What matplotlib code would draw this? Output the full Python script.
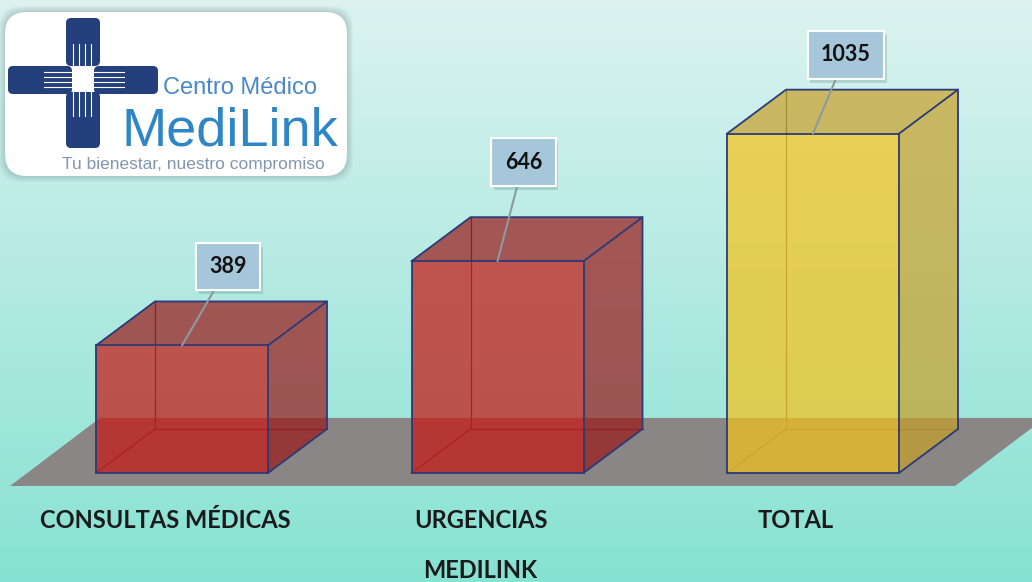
import numpy as np
import matplotlib
matplotlib.use("Agg")
import matplotlib.pyplot as plt
from matplotlib.patches import Polygon, FancyBboxPatch
import matplotlib.patheffects as pe

# data
categories = ["CONSULTAS MÉDICAS", "URGENCIAS", "TOTAL"]
values = [389, 646, 1035]
axis_title = "MEDILINK"

front_colors = [(197/255, 25/255, 20/255), (197/255, 25/255, 20/255), (245/255, 195/255, 30/255)]
side_colors = [(154/255, 24/255, 24/255), (154/255, 24/255, 24/255), (200/255, 160/255, 40/255)]
hidden_colors = ["#7a2a45", "#7a2a45", "#5a5a4a"]

W, H = 1032, 582
CAT_PX = 315.5      # pixels between two categories
CAT0_PX = 182.0     # pixel x of first category
BASE_PX = 473.0     # pixel y of value 0 (front bottom of bars)
VPP = 3.05          # value units per pixel
BAR_W = 172 / CAT_PX
DEPTH_X = 59 / CAT_PX
DEPTH_Y = 44 * VPP
EDGE = "#2b3a78"


def px_x(p):
    return (p - CAT0_PX) / CAT_PX


def px_y(p):
    return (BASE_PX - p) * VPP


def draw_background(ax):
    stops_y = np.array([0, 290, 582])
    stops_c = np.array([[220, 243, 240], [178, 234, 226], [134, 226, 210]]) / 255.0
    yy = np.arange(H)
    grad = np.stack([np.interp(yy, stops_y, stops_c[:, k]) for k in range(3)], axis=1)
    img = np.repeat(grad[:, None, :], 4, axis=1)
    ax.imshow(img, extent=[0, W, H, 0], aspect="auto", zorder=0)

    # gray floor plane
    floor = Polygon([(10, 486), (955, 486), (1045, 418), (100, 418)],
                    closed=True, fc="#8a8685", ec="none", zorder=1)
    ax.add_patch(floor)


def draw_logo(ax):
    for k in range(6):
        sh = FancyBboxPatch((5, 12), 342, 164, boxstyle="round,pad=%d,rounding_size=22" % (k + 1),
                            fc="#607c80", ec="none", alpha=0.05, zorder=2)
        ax.add_patch(sh)
    box = FancyBboxPatch((5, 12), 342, 164, boxstyle="round,pad=0,rounding_size=22",
                         fc="white", ec="none", zorder=3)
    ax.add_patch(box)

    navy = "#24407c"
    arms = [(66, 18, 34, 48), (66, 92, 34, 56), (8, 66, 64, 28), (94, 66, 64, 28)]
    for (x, y, w, h) in arms:
        ax.add_patch(FancyBboxPatch((x, y), w, h, boxstyle="round,pad=0,rounding_size=5",
                                    fc=navy, ec="none", zorder=4))
    # fingers
    for fx in [73, 79, 85, 91]:
        ax.plot([fx, fx], [44, 66], color="white", lw=0.8, zorder=5)
        ax.plot([fx, fx], [92, 116], color="white", lw=0.8, zorder=5)
    for fy in [72, 77, 82, 87]:
        ax.plot([44, 72], [fy, fy], color="white", lw=0.8, zorder=5)
        ax.plot([94, 124], [fy, fy], color="white", lw=0.8, zorder=5)

    ax.text(163, 88, "Centro Médico", fontsize=17, color="#4a88c8", va="center",
            family="Liberation Sans", zorder=5)
    ax.text(121, 146, "MediLink", fontsize=39, color="#2f86c6", va="baseline",
            family="Liberation Sans", zorder=5)
    t = ax.text(62, 164, "Tu bienestar, nuestro compromiso", fontsize=12.5, color="#8196b0",
                va="center", family="Liberation Sans", zorder=5)
    t.set_clip_path(box)


def draw_bar(ax, i, v, fc, sc, hc):
    x0, x1 = i - BAR_W / 2, i + BAR_W / 2
    dx, dy = DEPTH_X, DEPTH_Y

    # hidden edges seen through the box
    hid = dict(color=hc, lw=0.9, zorder=5)
    ax.plot([x0 + dx, x0 + dx], [dy, v + dy], **hid)
    ax.plot([x0 + dx, x1 + dx], [dy, dy], **hid)
    ax.plot([x0, x0 + dx], [0, dy], **hid)

    right = [(x1, 0), (x1 + dx, dy), (x1 + dx, v + dy), (x1, v)]
    top = [(x0, v), (x1, v), (x1 + dx, v + dy), (x0 + dx, v + dy)]
    front = [(x0, 0), (x1, 0), (x1, v), (x0, v)]
    ax.add_patch(Polygon(right, closed=True, fc=sc, ec="none", alpha=0.7, zorder=6))
    ax.add_patch(Polygon(top, closed=True, fc=sc, ec="none", alpha=0.7, zorder=6))
    ax.add_patch(Polygon(front, closed=True, fc=fc, ec="none", alpha=0.72, zorder=6))

    # visible edges
    ed = dict(color=EDGE, lw=1.3, zorder=7, solid_joinstyle="miter")
    ax.plot([x0, x1, x1, x0, x0], [0, 0, v, v, 0], **ed)
    ax.plot([x0, x0 + dx, x1 + dx, x1], [v, v + dy, v + dy, v], **ed)
    ax.plot([x1 + dx, x1 + dx, x1], [v + dy, dy, 0], **ed)


def main():
    fig = plt.figure(figsize=(W / 100, H / 100), dpi=100)

    bg = fig.add_axes([0, 0, 1, 1])
    bg.set_xlim(0, W)
    bg.set_ylim(H, 0)
    bg.axis("off")
    draw_background(bg)
    draw_logo(bg)

    ax = fig.add_axes([0, 0, 1, 1])
    ax.patch.set_alpha(0)
    ax.set_xlim(px_x(0), px_x(W))
    ax.set_ylim(px_y(H), px_y(0))
    ax.axis("off")

    label_offsets = [(46, 79), (26, 99), (33, 79)]
    for i, v in enumerate(values):
        draw_bar(ax, i, v, front_colors[i], side_colors[i], hidden_colors[i])
        ann = ax.annotate(str(v), xy=(i, v), xytext=label_offsets[i], textcoords="offset pixels",
                          ha="center", va="center", fontsize=15.5, fontweight="bold", family="Lato",
                          color="#111111", zorder=9,
                          bbox=dict(boxstyle="square,pad=0.62", fc="#a6c6da", ec="white", lw=1.5,
                                    path_effects=[pe.SimplePatchShadow(offset=(2, -3), shadow_rgbFace="#6f9f9f",
                                                                       alpha=0.35), pe.Normal()]),
                          arrowprops=dict(arrowstyle="-", color="#8d9a9e", lw=1.5,
                                          shrinkA=0, shrinkB=0))

    for i, name in enumerate(categories):
        ax.text(i + px_x(CAT0_PX - 17), px_y(520), name, ha="center", va="center",
                fontsize=17, fontweight="bold", family="Lato", color="#1a1a1a", zorder=9)
    ax.text(1 + px_x(CAT0_PX - 17), px_y(571), axis_title, ha="center", va="center",
            fontsize=17, fontweight="bold", family="Lato", color="#1a1a1a", zorder=9)

    fig.savefig("out.png", dpi=100)
    plt.close(fig)


if __name__ == "__main__":
    main()
